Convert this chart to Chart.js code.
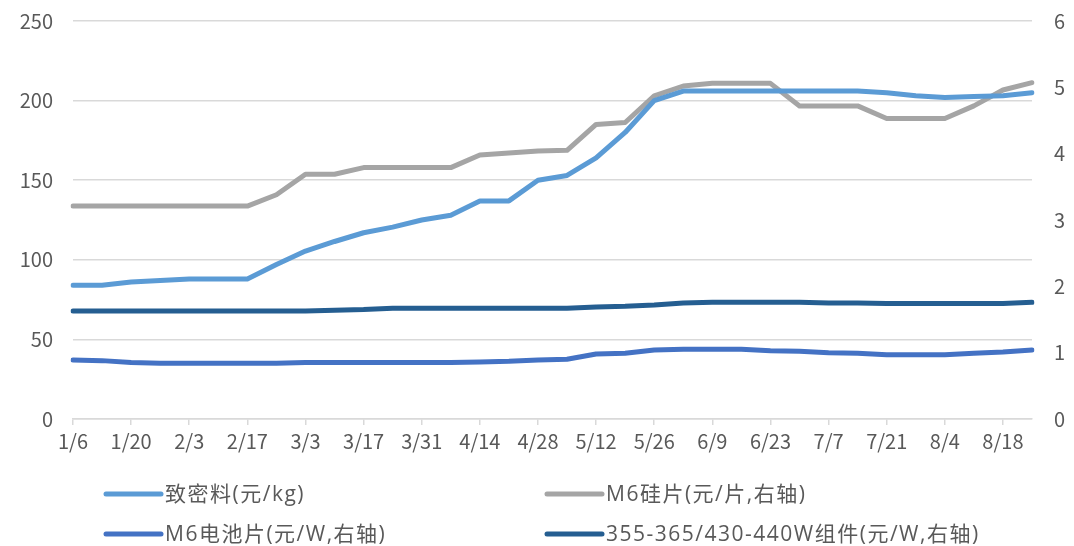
<!DOCTYPE html>
<html>
<head>
<meta charset="utf-8">
<script src="https://cdn.jsdelivr.net/npm/chart.js@4/dist/chart.umd.min.js"></script>
<style>
    html, body { margin: 0; padding: 0; background: #fff; }
    #wrap { position: relative; width: 1074px; height: 546px; }
</style>
</head>
<body>
<div id="wrap"><canvas id="price-chart" width="1074" height="546"></canvas></div>
<script>
// weekly quotes, 2021
const dates = [
    '1/6', '1/13', '1/20', '1/27', '2/3', '2/10', '2/17', '2/24', '3/3', '3/10',
    '3/17', '3/24', '3/31', '4/7', '4/14', '4/21', '4/28', '5/5', '5/12', '5/19',
    '5/26', '6/2', '6/9', '6/16', '6/23', '6/30', '7/7', '7/14', '7/21', '7/28',
    '8/4', '8/11', '8/18', '8/25'
]
const polysilicon = [
    84, 84, 86, 87, 88, 88, 88, 97, 105.5, 111.5,
    117, 120.5, 125, 128, 137, 137, 150, 153, 164, 180,
    200, 206, 206, 206, 206, 206, 206, 206, 205, 203,
    202, 202.5, 203, 205
]
const waferM6 = [
    3.21, 3.21, 3.21, 3.21, 3.21, 3.21, 3.21, 3.38, 3.69, 3.69,
    3.79, 3.79, 3.79, 3.79, 3.98, 4.01, 4.04, 4.05, 4.44, 4.47,
    4.87, 5.02, 5.06, 5.06, 5.06, 4.72, 4.72, 4.72, 4.53, 4.53,
    4.53, 4.72, 4.96, 5.07
]
const cellM6 = [
    0.89, 0.88, 0.85, 0.84, 0.84, 0.84, 0.84, 0.84, 0.85, 0.85,
    0.85, 0.85, 0.85, 0.85, 0.86, 0.87, 0.89, 0.90, 0.98, 0.99,
    1.04, 1.05, 1.05, 1.05, 1.03, 1.02, 1.00, 0.99, 0.97, 0.97,
    0.97, 0.99, 1.01, 1.04
]
const module = [
    1.63, 1.63, 1.63, 1.63, 1.63, 1.63, 1.63, 1.63, 1.63, 1.64,
    1.65, 1.67, 1.67, 1.67, 1.67, 1.67, 1.67, 1.67, 1.69, 1.70,
    1.72, 1.75, 1.76, 1.76, 1.76, 1.76, 1.75, 1.75, 1.74, 1.74,
    1.74, 1.74, 1.74, 1.76
]
const leftTicks = [0, 50, 100, 150, 200, 250]
const rightTicks = [0, 1, 2, 3, 4, 5, 6]

const FONT = '"Noto Sans CJK SC", "Microsoft YaHei", sans-serif'
const LEGEND_FONT = '"Open Sans", "Noto Sans CJK SC", sans-serif'
const TEXT = '#595959'
const GRID = '#d9d9d9'

// legend drawn on canvas in two columns below the axis
const legendGrid = {
    id: 'legendGrid',
    afterDraw(chart) {
        const ctx = chart.ctx
        const cols = [106, 547]
        const rows = [494, 534]
        ctx.save()
        ctx.font = `21px ${LEGEND_FONT}`
        ctx.letterSpacing = '1.5px'
        ctx.textBaseline = 'middle'
        ctx.fillStyle = TEXT
        chart.data.datasets.forEach((ds, i) => {
            const x = cols[i % 2]
            const y = rows[Math.floor(i / 2)]
            ctx.strokeStyle = ds.borderColor
            ctx.lineWidth = 5
            ctx.lineCap = 'round'
            ctx.beginPath()
            ctx.moveTo(x, y)
            ctx.lineTo(x + 55, y)
            ctx.stroke()
            ctx.fillText(ds.label, x + 59, y + 1)
        })
        ctx.restore()
    }
}

const line = (label, data, color, axis) => ({
    label,
    data,
    yAxisID: axis,
    borderColor: color,
    backgroundColor: color,
    borderWidth: 5,
    borderCapStyle: 'round',
    borderJoinStyle: 'round',
    pointRadius: 0,
    tension: 0
})

const renderChart = () => {
    const canvasEl = document.getElementById('price-chart')
    new Chart(canvasEl.getContext('2d'), {
        type: 'line',
        data: {
            labels: dates,
            datasets: [
                line('致密料(元/kg)', polysilicon, '#5B9BD5', 'y'),
                line('M6硅片(元/片,右轴)', waferM6, '#A5A5A5', 'y1'),
                line('M6电池片(元/W,右轴)', cellM6, '#4472C4', 'y1'),
                line('355-365/430-440W组件(元/W,右轴)', module, '#255E91', 'y1')
            ]
        },
        options: {
            responsive: false,
            animation: false,
            layout: { padding: { top: 21, left: 0, right: 0, bottom: 0 } },
            plugins: {
                legend: { display: false },
                tooltip: { enabled: false }
            },
            scales: {
                x: {
                    offset: false,
                    grid: {
                        drawOnChartArea: false,
                        drawTicks: true,
                        tickLength: 6,
                        lineWidth: 1.5,
                        tickColor: c => c.index % 2 ? 'transparent' : GRID
                    },
                    border: { display: true, color: GRID, width: 1.5 },
                    ticks: {
                        autoSkip: false,
                        maxRotation: 0,
                        padding: 4,
                        color: TEXT,
                        font: { family: FONT, size: 20 },
                        callback: (v, i) => i % 2 ? '' : dates[i]
                    },
                    afterFit: s => { s.height = 127 }
                },
                y: {
                    position: 'left',
                    min: leftTicks[0],
                    max: leftTicks[leftTicks.length - 1],
                    // invisible tick marks push the labels away from the plot
                    grid: { color: GRID, lineWidth: 1.5, drawTicks: true, tickLength: 16, tickColor: 'transparent' },
                    border: { display: false },
                    ticks: {
                        stepSize: 50,
                        padding: 4,
                        color: TEXT,
                        font: { family: FONT, size: 20 }
                    },
                    afterFit: s => { s.width = 73 }
                },
                y1: {
                    position: 'right',
                    min: rightTicks[0],
                    max: rightTicks[rightTicks.length - 1],
                    grid: { display: true, drawOnChartArea: false, drawTicks: true, tickLength: 18, tickColor: 'transparent' },
                    border: { display: false },
                    ticks: {
                        stepSize: 1,
                        padding: 4,
                        color: TEXT,
                        font: { family: FONT, size: 20 }
                    },
                    afterFit: s => { s.width = 42 }
                }
            }
        },
        plugins: [legendGrid]
    })
}

document.addEventListener('DOMContentLoaded', renderChart, false)
</script>
</body>
</html>
